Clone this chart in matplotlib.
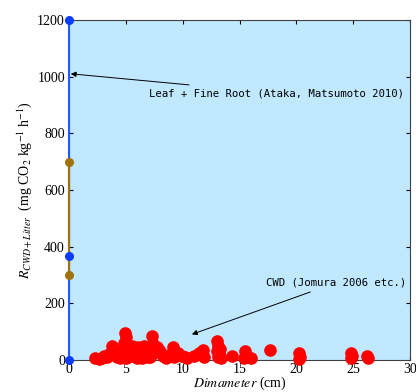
import matplotlib
matplotlib.use('Agg')
import matplotlib.pyplot as plt
import numpy as np

# leaf + fine root (at diameter 0)
leaf_blue = [1200, 365, 0]
leaf_brown = [700, 300]

# CWD respiration vs diameter
cwd_d = [2.3, 2.6, 2.9, 3.1, 3.3, 3.5, 3.8, 4.0, 4.2, 4.4, 4.5,
         4.9, 5.0, 4.8, 5.1, 5.0, 4.9, 5.2, 5.0,
         5.5, 5.6, 5.8, 5.7, 5.9, 6.0,
         6.1, 6.3, 6.2, 6.4,
         6.6, 6.8, 6.7, 6.9,
         7.3, 7.4, 7.2, 7.5, 7.3, 7.1,
         7.7, 7.9, 8.1, 8.3, 8.5,
         9.1, 9.0, 9.2,
         9.6, 9.9, 10.2, 10.4,
         11.0, 11.4, 11.8, 11.9,
         13.0, 13.1, 13.3, 13.0, 13.2, 13.1, 13.4,
         14.3, 15.5, 15.6, 15.4, 16.0, 17.7,
         20.2, 20.3, 20.2, 24.8, 24.9, 24.8, 26.2, 26.3]
cwd_r = [5, 3, 8, 15, 10, 20, 50, 20, 10, 30, 5,
         95, 80, 60, 40, 30, 20, 10, 5,
         50, 40, 30, 20, 10, 5,
         45, 30, 15, 5,
         50, 40, 25, 10,
         85, 55, 40, 30, 20, 10,
         45, 35, 25, 15, 5,
         45, 20, 10,
         25, 15, 10, 5,
         15, 25, 35, 10,
         65, 50, 40, 30, 20, 10, 5,
         15, 30, 15, 5, 8, 35,
         25, 10, 3, 25, 15, 5, 15, 5]

plt.rcParams['font.family'] = ['Liberation Serif', 'DejaVu Serif']
plt.rcParams['mathtext.fontset'] = 'stix'

fig = plt.figure(figsize=(4.16, 3.92), dpi=100)
ax = fig.add_axes([0.166, 0.082, 0.82, 0.867])
ax.set_facecolor('#C0E8FF')

ax.plot([0, 0], [0, 1200], color='#1f5cff', lw=1.5, zorder=3, clip_on=False)
ax.plot([0, 0], leaf_brown, color='#a0720a', lw=1.5, zorder=3, clip_on=False)
ax.scatter([0] * len(leaf_blue), leaf_blue, s=30, color='#0a3cff', zorder=4, clip_on=False)
ax.scatter([0] * len(leaf_brown), leaf_brown, s=30, color='#a0720a', zorder=4, clip_on=False)
ax.scatter(cwd_d, cwd_r, s=65, color='#ff0000', zorder=3, clip_on=False)

ax.set_xlim(0, 30)
ax.set_ylim(0, 1200)
ax.set_xticks(np.arange(0, 31, 5))
ax.set_yticks(np.arange(0, 1201, 200))
ax.tick_params(direction='in', top=True, right=True, labelsize=10, length=3, pad=1)
ax.tick_params(axis='y', pad=3)
ax.tick_params(axis='x', pad=2)
for s in ax.spines.values():
    s.set_color('#404040')
    s.set_linewidth(0.8)

ax.set_xlabel(r'$\it{Dimameter}$ (cm)', fontsize=10)
ax.xaxis.set_label_coords(0.5, -0.043)
ax.set_ylabel(r'$R_{CWD+Litter}$  (mg CO$_2$ kg$^{-1}$ h$^{-1}$)', fontsize=10, labelpad=2)

mono = ['DejaVu Sans Mono']
ax.annotate('Leaf + Fine Root (Ataka, Matsumoto 2010)', xy=(0.15, 1010), xytext=(7.0, 942),
            fontsize=7.7, family=mono, va='center', ha='left',
            arrowprops=dict(arrowstyle='-|>', color='black', lw=0.7, shrinkA=3, shrinkB=0))
ax.annotate('CWD (Jomura 2006 etc.)', xy=(10.8, 90), xytext=(17.3, 272),
            fontsize=7.7, family=mono, va='center', ha='left',
            arrowprops=dict(arrowstyle='-|>', color='black', lw=0.7, shrinkA=3, shrinkB=0))

fig.savefig('out.png', dpi=100)
